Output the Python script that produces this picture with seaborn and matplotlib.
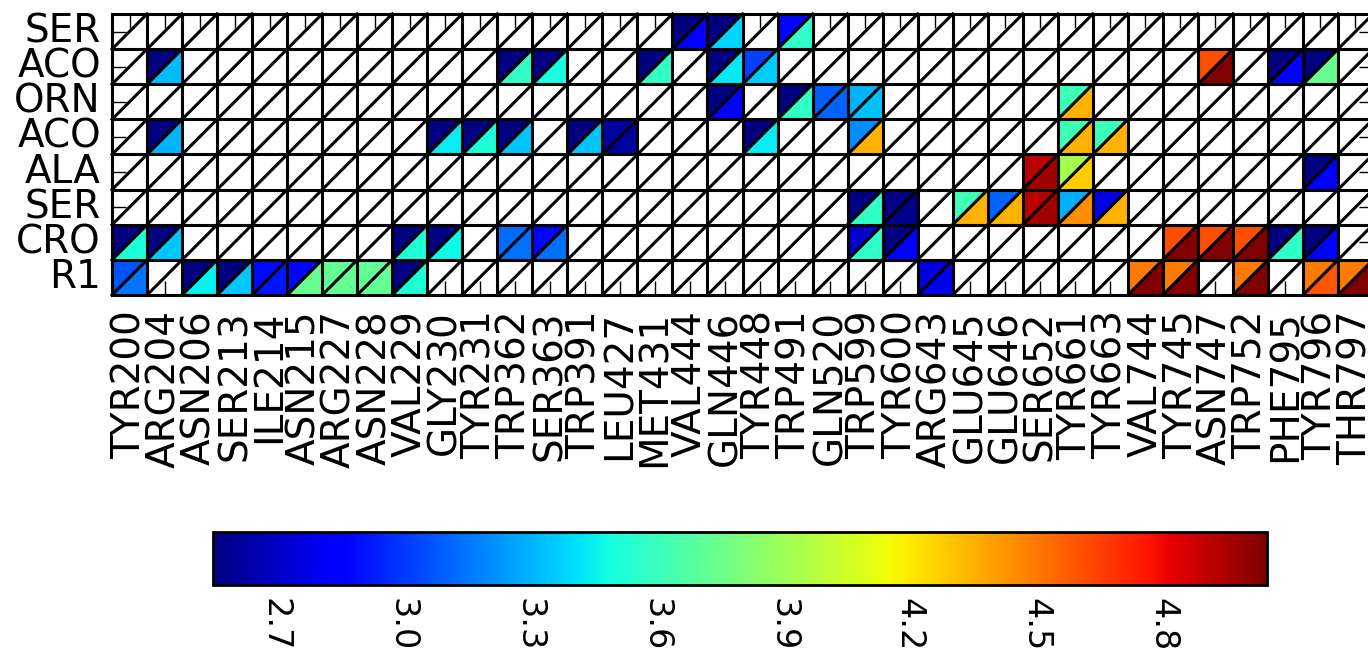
import numpy as np
import matplotlib
matplotlib.use("Agg")
import matplotlib.pyplot as plt
from matplotlib.collections import PolyCollection, LineCollection
from matplotlib.colors import Normalize
import seaborn as sns

# Ligand atoms (rows, top to bottom) and protein residues (columns)
ligand_atoms = ["SER", "ACO", "ORN", "ACO", "ALA", "SER", "CRO", "R1"]
residues = ["TYR200", "ARG204", "ASN206", "SER213", "ILE214", "ASN215",
            "ARG227", "ASN228", "VAL229", "GLY230", "TYR231", "TRP362",
            "SER363", "TRP391", "LEU427", "MET431", "VAL444", "GLN446",
            "TYR448", "TRP491", "GLN520", "TRP599", "TYR600", "ARG643",
            "GLU645", "GLU646", "SER652", "TYR661", "TYR663", "VAL744",
            "TYR745", "ASN747", "TRP752", "PHE795", "TYR796", "THR797"]

# Contacts: row index, column index, upper-left and lower-right distances
contact_row = [0, 0, 0,
               1, 1, 1, 1, 1, 1, 1, 1, 1,
               2, 2, 2, 2, 2,
               3, 3, 3, 3, 3, 3, 3, 3, 3, 3,
               4, 4, 4,
               5, 5, 5, 5, 5, 5, 5,
               6, 6, 6, 6, 6, 6, 6, 6, 6, 6, 6, 6, 6,
               7, 7, 7, 7, 7, 7, 7, 7, 7, 7, 7, 7, 7, 7]
contact_col = [16, 17, 19,
               1, 11, 12, 15, 17, 18, 31, 33, 34,
               17, 19, 20, 21, 27,
               1, 9, 10, 11, 13, 14, 18, 21, 27, 28,
               26, 27, 34,
               21, 22, 24, 25, 26, 27, 28,
               0, 1, 8, 9, 11, 12, 21, 22, 30, 31, 32, 33, 34,
               0, 2, 3, 4, 5, 6, 7, 8, 23, 29, 30, 32, 34, 35]
upper_dist = [2.56, 2.56, 2.88,
              2.56, 2.56, 2.56, 2.56, 2.56, 3.03, 4.61, 2.56, 2.56,
              2.56, 2.56, 3.09, 3.30, 3.61,
              2.56, 2.56, 2.56, 2.56, 2.56, 2.63, 2.56, 3.21, 3.61, 3.61,
              4.91, 3.92, 2.56,
              2.56, 2.58, 3.62, 3.11, 4.91, 3.29, 2.78,
              2.56, 2.56, 2.56, 2.56, 3.13, 2.88, 2.72, 2.56, 4.61, 4.61, 4.61, 2.56, 2.56,
              3.07, 2.56, 2.56, 2.89, 2.88, 3.73, 3.73, 2.56, 2.76, 4.50, 4.50, 4.50, 4.50, 4.50]
lower_dist = [2.85, 3.39, 3.57,
              3.33, 3.57, 3.50, 3.57, 3.43, 3.37, 5.04, 2.85, 3.74,
              2.85, 3.57, 3.11, 3.34, 4.35,
              3.31, 3.44, 3.52, 3.35, 3.35, 2.63, 3.44, 4.35, 4.35, 4.35,
              4.97, 4.28, 2.85,
              3.57, 2.58, 4.35, 4.35, 4.97, 4.45, 4.35,
              3.52, 3.36, 3.52, 3.47, 3.14, 3.14, 3.57, 2.85, 5.04, 5.04, 5.04, 3.57, 2.85,
              3.15, 3.45, 3.36, 2.92, 3.74, 3.73, 3.73, 3.52, 2.80, 5.04, 5.04, 5.04, 4.59, 5.04]

dist_min, dist_max = 2.553, 5.046
cbar_ticks = [2.7, 3.0, 3.3, 3.6, 3.9, 4.2, 4.5, 4.8]
cbar_labels = ["2.7", "3.0", "3.3", "3.6", "3.9", "4.2", "4.5", "4.8"]

sns.set_theme(style="white")
plt.rcParams["font.family"] = ["DejaVu Sans"]
for key in ("text.color", "axes.labelcolor", "xtick.color", "ytick.color",
            "axes.edgecolor"):
    plt.rcParams[key] = "black"

n_rows, n_cols = len(ligand_atoms), len(residues)
upper = np.full((n_rows, n_cols), np.nan)
upper[contact_row, contact_col] = upper_dist

W, H = 1368, 652
fig = plt.figure(figsize=(W / 100, H / 100), dpi=100)
ax = fig.add_axes([112 / W, 1 - 295 / H, (1373 - 112) / W, (295 - 14) / H])
cax = fig.add_axes([213 / W, 1 - 585 / H, (1267 - 213) / W, (585 - 532) / H])

# Upper-left triangle value fills each contact cell
sns.heatmap(upper, ax=ax, cmap="jet", vmin=dist_min, vmax=dist_max,
            xticklabels=residues, yticklabels=ligand_atoms,
            cbar_ax=cax,
            cbar_kws={"orientation": "horizontal", "ticks": cbar_ticks})

# Lower-right triangles on top
norm = Normalize(dist_min, dist_max)
tris = [[(c, r + 1), (c + 1, r + 1), (c + 1, r)]
        for r, c in zip(contact_row, contact_col)]
pc = PolyCollection(tris, cmap="jet", norm=norm, edgecolors="none", zorder=1.5)
pc.set_array(np.array(lower_dist))
ax.add_collection(pc)

# Cell grid and diagonals
segs = [[(0, y), (n_cols, y)] for y in range(n_rows + 1)]
segs += [[(x, 0), (x, n_rows)] for x in range(n_cols + 1)]
segs += [[(c, r + 1), (c + 1, r)] for r in range(n_rows) for c in range(n_cols)]
ax.add_collection(LineCollection(segs, colors="black", linewidths=2.2,
                                 zorder=2, clip_on=False,
                                 capstyle="projecting"))

ax.set_xlim(0, n_cols)
ax.set_ylim(n_rows, 0)
ax.tick_params(axis="both", which="major", direction="in", length=10,
               width=1, color="black", top=True, right=True, bottom=True,
               left=True, labelcolor="black")
ax.tick_params(axis="x", pad=11, labelsize=28)
ax.tick_params(axis="y", pad=8, labelsize=28)
plt.setp(ax.get_xticklabels(), rotation=90, ha="center", va="top")
plt.setp(ax.get_yticklabels(), rotation=0, ha="right", va="center")
for s in ax.spines.values():
    s.set_visible(False)

cbar = ax.collections[0].colorbar
cbar.outline.set_visible(True)
cbar.outline.set_linewidth(2)
cbar.outline.set_edgecolor("black")
cax.set_xticks(cbar_ticks)
cax.set_xticklabels(cbar_labels)
cax.tick_params(axis="x", direction="in", length=10, width=1, color="black",
                bottom=True, top=False, labelsize=24, labelrotation=-90,
                labelcolor="black", pad=9)
cax.tick_params(axis="y", left=False, right=False)

fig.savefig("out.png", dpi=100)
